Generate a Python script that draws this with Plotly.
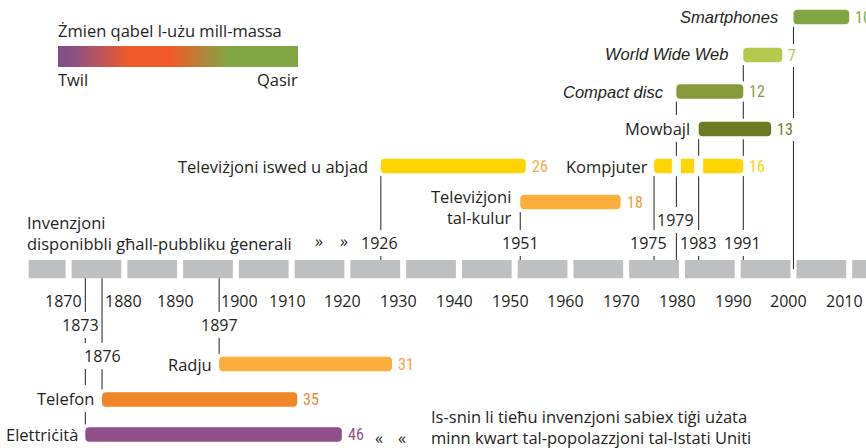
import plotly.graph_objects as go

# ---------------- data ----------------
label_lines = [["Elettriċità"], ["Telefon"], ["Radju"], ["Televiżjoni iswed u abjad"],
               ["Televiżjoni", "tal-kulur"], ["Kompjuter"], ["Mowbajl"], ["Compact disc"],
               ["World Wide Web"], ["Smartphones"]]
start_years = [1873, 1876, 1897, 1926, 1951, 1975, 1983, 1979, 1991, 2000]
years_to_quarter = [46, 35, 31, 26, 18, 16, 13, 12, 7, 10]
year_labels = ["1873", "1876", "1897", "1926", "1951", "1975", "1983", "1979", "1991", ""]
decades = [1870, 1880, 1890, 1900, 1910, 1920, 1930, 1940, 1950, 1960, 1970, 1980, 1990, 2000, 2010]
decade_labels = [str(d) for d in decades]

legend_title = "Żmien qabel l-użu mill-massa"
legend_low = "Twil"
legend_high = "Qasir"
axis_caption = ["Invenzjoni", "disponibbli għall-pubbliku ġenerali"]
note_lines = ["Is-snin li tieħu invenzjoni sabiex tiġi użata",
              "minn kwart tal-popolazzjoni tal-Istati Uniti"]

# ---------------- layout / style ----------------
W, H = 866, 448
X_RANGE = [1857.70, 2013.01]
PX = W / (X_RANGE[1] - X_RANGE[0])  # pixels per year
TXT = "#231F20"
FONT = "Open Sans"
NARROW = "Roboto Condensed, DejaVu Sans Condensed, Noto Sans Condensed, Liberation Sans Narrow, Open Sans"

row_y = [434.5, 399.5, 364, 166, 202, 166, 129, 91.5, 55, 17]
name_dy = [0, -1.5, 0, 0, 5.35, 0, -1, 0, -1, 0]
name_gap = [7.7, 7.7, 7, 13, 8.2, 6, 9, 12, 15, 15.7]
italic = [False] * 7 + [True] * 3
year_label_y = [324.5, 355.5, 324.5, 242.5, 242.5, 242.5, 242.5, 220, 242.5, None]
year_label_dx = [-5, 0, 0, -1, 0, -6, 0, -1, -1, 0]
bar_colors = ["#8F4F8A", "#F0852A", "#FBAE3C", "#FFD400", "#FBAE3C",
              "#FFD400", "#6A7B23", "#889B3A", "#B4C94B", "#80A646"]
value_colors = ["#8F4F8A", "#F0852A", "#F7A13F", "#F9AA48", "#F5993A",
                "#FFD400", "#6A7B23", "#889B3A", "#B4C94B", "#80A646"]
split_rows = {5}  # Kompjuter bar is broken where other lines cross it
AXIS_TOP, AXIS_BOT = 260, 278.3
AXIS_MID = (AXIS_TOP + AXIS_BOT) / 2
TIMELINE_START = 1862.85
BLOCK_GAP = 6 / PX
BAR_H = 14.5
HALO = 3
DECADE_Y = 300.5
DECADE_ALIGN = {1870: ("right", 1873, -3), 1880: ("left", 1876, 2.5), 1900: ("left", 1897, 2)}

end_years = [s + d for s, d in zip(start_years, years_to_quarter)]

fig = go.Figure()

# halo bars (white) that interrupt the connector lines around each bar
fig.add_trace(go.Bar(
    orientation="h", y=row_y,
    base=[s - HALO / PX for s in start_years],
    x=[d + 2 * HALO / PX for d in years_to_quarter],
    width=BAR_H + 2 * HALO, marker=dict(color="white", cornerradius=4, line=dict(width=0)),
    hoverinfo="skip", showlegend=False))
# coloured bars
fig.add_trace(go.Bar(
    orientation="h", y=row_y, base=start_years, x=years_to_quarter,
    width=BAR_H, marker=dict(color=bar_colors, cornerradius=4, line=dict(width=0)),
    hoverinfo="skip", showlegend=False))

# legend gradient
fig.add_trace(go.Heatmap(
    z=[[0, 1], [0, 1]], x=[0, 1], y=[0, 1], zsmooth="best", showscale=False,
    colorscale=[[0, "#7D4F88"], [0.06, "#8A5186"], [0.3, "#F05A2A"], [0.47, "#F05A2A"],
                [0.71, "#80A646"], [1, "#80A646"]],
    xaxis="x2", yaxis="y2", hoverinfo="skip"))

shapes = []
# connector lines
for i, s in enumerate(start_years):
    shapes.append(dict(type="line", xref="x", yref="y", x0=s, x1=s, y0=row_y[i], y1=AXIS_MID,
                       line=dict(color=TXT, width=1), layer="below"))
# timeline blocks
for d in [decades[0] - 10] + decades:
    x0 = max(d + BLOCK_GAP / 2, TIMELINE_START)
    x1 = d + 10 - BLOCK_GAP / 2
    shapes.append(dict(type="rect", xref="x", yref="y", x0=x0, x1=x1, y0=AXIS_TOP, y1=AXIS_BOT,
                       fillcolor="#BEBFC1", line=dict(width=0), layer="below"))
# white gaps where lines cross split bars
for i in split_rows:
    for j, s in enumerate(start_years):
        if j == i:
            continue
        lo, hi = sorted([row_y[j], AXIS_MID])
        if start_years[i] < s < end_years[i] and lo <= row_y[i] <= hi:
            shapes.append(dict(type="rect", xref="x", yref="y", x0=s - 4.5 / PX, x1=s + 4.5 / PX,
                               y0=row_y[i] - BAR_H / 2 - 1, y1=row_y[i] + BAR_H / 2 + 1,
                               fillcolor="white", line=dict(width=0), layer="above"))

ann = []


def txt(text, x, y, xanchor="center", size=16.5, color=TXT, family=FONT, xref="x",
        bg=None, xshift=0, style="normal", align="left"):
    d = dict(text=text, x=x, y=y, xref=xref, yref="y", xanchor=xanchor, yanchor="middle",
             showarrow=False, xshift=xshift, align=align,
             font=dict(family=family, size=size, color=color, style=style),
             borderwidth=0, borderpad=2 if bg else 0)
    if bg:
        d["bgcolor"] = bg
    ann.append(d)


# invention names
for i, lines in enumerate(label_lines):
    fam = "Liberation Sans, Arial, sans-serif" if italic[i] else FONT
    txt("<br>".join(lines), start_years[i], row_y[i] + name_dy[i], xanchor="right",
        bg="white" if len(lines) == 1 else None,
        xshift=-name_gap[i] + (2 if len(lines) == 1 else 0), family=fam,
        style="italic" if italic[i] else "normal", size=16.5, align="right")
# values
for i, v in enumerate(years_to_quarter):
    txt(str(v), end_years[i], row_y[i], xanchor="left", size=16, color=value_colors[i],
        family=NARROW, bg="white", xshift=4)
# year labels at lines
for i, lab in enumerate(year_labels):
    if lab and year_label_y[i] is not None:
        txt(lab, start_years[i], year_label_y[i], bg="white", xshift=year_label_dx[i], size=16)
# decade labels
for d, lab in zip(decades, decade_labels):
    if d in DECADE_ALIGN:
        anc, ref, dx = DECADE_ALIGN[d]
        txt(lab, ref, DECADE_Y, xanchor=anc, xshift=dx, size=16)
    else:
        txt(lab, d, DECADE_Y, xshift=-4.5, size=16)

# caption beside the axis
txt("<br>".join(axis_caption), 26.7 / W, 232.5, xanchor="left", xref="paper")
txt("»", 319 / W, 241, size=16, xref="paper")
txt("»", 344 / W, 241, size=16, xref="paper")
# note at bottom
txt("<br>".join(note_lines), 431 / W, 427.2, xanchor="left", xref="paper")
txt("«", 379 / W, 437.5, size=16, xref="paper")
txt("«", 402 / W, 437.5, size=16, xref="paper")
# legend texts
txt(legend_title, 58 / W, 30.5, xanchor="left", xref="paper")
txt(legend_low, 58 / W, 79, xanchor="left", xref="paper")
txt(legend_high, 298 / W, 79, xanchor="right", xref="paper")

fig.update_layout(
    width=W, height=H, margin=dict(l=0, r=0, t=0, b=0),
    paper_bgcolor="white", plot_bgcolor="white",
    barmode="overlay", showlegend=False,
    xaxis=dict(range=X_RANGE, visible=False, fixedrange=True),
    yaxis=dict(range=[H, 0], visible=False, fixedrange=True),
    xaxis2=dict(domain=[58 / W, 298 / W], range=[0, 1], visible=False, anchor="y2", fixedrange=True),
    yaxis2=dict(domain=[1 - 67 / H, 1 - 46 / H], range=[0, 1], visible=False, anchor="x2",
                fixedrange=True),
    shapes=shapes, annotations=ann,
)

fig.write_html("out.html", config={"displayModeBar": False},
               post_script="document.body.style.margin='0';")
